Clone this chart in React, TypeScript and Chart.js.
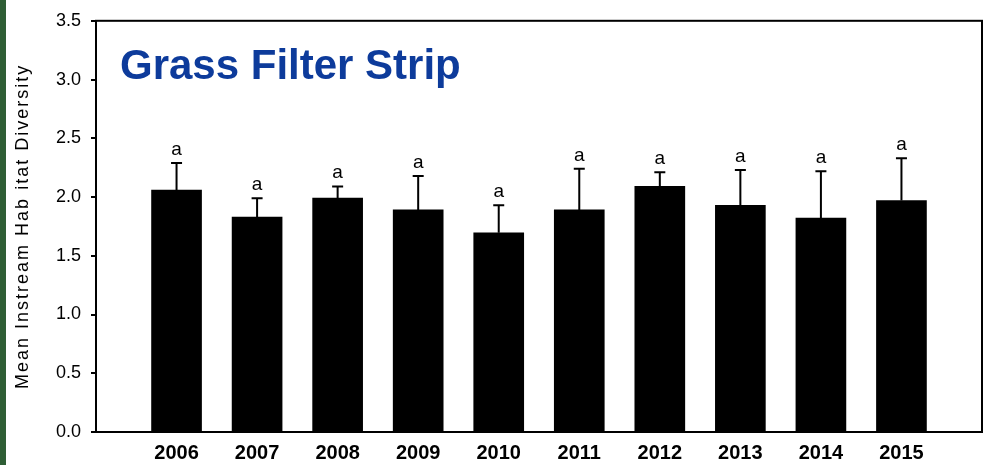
import React, { useEffect, useRef } from 'react';
import { Chart, registerables } from 'chart.js';

Chart.register(...registerables);

const years = [2006, 2007, 2008, 2009, 2010, 2011, 2012, 2013, 2014, 2015];
const means = [2.06, 1.83, 1.99, 1.89, 1.695, 1.89, 2.09, 1.93, 1.82, 1.97];
const upperErr = [2.29, 1.99, 2.09, 2.18, 1.93, 2.24, 2.21, 2.23, 2.22, 2.33];
const groupLetters = ['a', 'a', 'a', 'a', 'a', 'a', 'a', 'a', 'a', 'a'];
const yTickValues = [0, 0.5, 1.0, 1.5, 2.0, 2.5, 3.0, 3.5];
const chartTitle = 'Grass Filter Strip';
const yTitle = 'Mean Instream Hab itat Diversity';

const FONT = '"Liberation Sans", Arial, Helvetica, sans-serif';

const decorPlugin = {
  id: 'decor',
  afterDatasetsDraw(chart: any) {
    const { ctx, chartArea: a, scales } = chart;
    const x = scales.x;
    const y = scales.y;
    ctx.save();
    ctx.strokeStyle = '#000';
    ctx.lineWidth = 2;
    years.forEach((yr, i) => {
      const px = x.getPixelForValue(yr);
      const y0 = y.getPixelForValue(means[i]);
      const y1 = y.getPixelForValue(upperErr[i]);
      ctx.beginPath();
      ctx.moveTo(px, y0);
      ctx.lineTo(px, y1);
      ctx.moveTo(px - 5.5, y1);
      ctx.lineTo(px + 5.5, y1);
      ctx.stroke();
      ctx.fillStyle = '#000';
      ctx.font = `19px ${FONT}`;
      ctx.textAlign = 'center';
      ctx.textBaseline = 'alphabetic';
      ctx.fillText(groupLetters[i], px, y1 - 8);
    });
    ctx.strokeRect(a.left, a.top, a.right - a.left, a.bottom - a.top);
    ctx.fillStyle = '#0d3b9b';
    ctx.font = `bold 42px ${FONT}`;
    ctx.textAlign = 'left';
    ctx.textBaseline = 'alphabetic';
    ctx.fillText(chartTitle, a.left + 24, a.top + 58);
    ctx.restore();

    ctx.save();
    ctx.translate(28, (a.top + a.bottom) / 2);
    ctx.rotate(-Math.PI / 2);
    ctx.fillStyle = '#000';
    ctx.font = `18px ${FONT}`;
    (ctx as any).letterSpacing = '2px';
    ctx.textAlign = 'center';
    ctx.textBaseline = 'alphabetic';
    ctx.fillText(yTitle, 0, 0);
    ctx.restore();
  },
};

export default function App() {
  const ref = useRef<HTMLCanvasElement | null>(null);
  useEffect(() => {
    if (!ref.current) return;
    const chart = new Chart(ref.current, {
      type: 'bar',
      data: {
        datasets: [
          {
            data: years.map((yr, i) => ({ x: yr, y: means[i] })),
            backgroundColor: '#000',
            borderWidth: 0,
            barThickness: 50,
          },
        ],
      },
      options: {
        responsive: false,
        animation: false,
        layout: { padding: { top: 18, right: 4, left: 0, bottom: 0 } },
        plugins: { legend: { display: false }, tooltip: { enabled: false } },
        scales: {
          x: {
            type: 'linear',
            min: 2005,
            max: 2016,
            offset: false,
            afterBuildTicks: (s: any) => {
              s.ticks = years.map((v) => ({ value: v }));
            },
            afterFit: (s: any) => {
              s.height = 33;
            },
            grid: { display: false, drawTicks: false, tickLength: 0, offset: false },
            border: { display: true, color: '#000', width: 2 },
            ticks: {
              color: '#000',
              padding: 9,
              maxRotation: 0,
              autoSkip: false,
              font: { family: FONT, size: 20, weight: 'bold' },
              callback: (v: any) => String(v),
            },
          },
          y: {
            min: 0,
            max: 3.5,
            afterBuildTicks: (s: any) => {
              s.ticks = yTickValues.map((v) => ({ value: v }));
            },
            afterFit: (s: any) => {
              s.width = 96;
            },
            grid: {
              drawOnChartArea: false,
              drawTicks: true,
              tickLength: 5,
              color: '#000',
              lineWidth: 2,
            },
            border: { display: true, color: '#000', width: 2 },
            ticks: {
              color: '#000',
              padding: 10,
              font: { family: FONT, size: 18 },
              callback: (v: any) => Number(v).toFixed(1),
            },
          },
        },
      },
      plugins: [decorPlugin],
    } as any);
    return () => chart.destroy();
  }, []);

  return (
    <div
      style={{
        position: 'fixed',
        left: 0,
        top: 0,
        width: 986,
        height: 465,
        background: '#fff',
        overflow: 'hidden',
      }}
    >
      <canvas ref={ref} width={986} height={465} style={{ display: 'block' }} />
      <div
        style={{
          position: 'absolute',
          left: 0,
          top: 0,
          width: 6,
          height: 465,
          background: '#2f5e35',
        }}
      />
    </div>
  );
}
